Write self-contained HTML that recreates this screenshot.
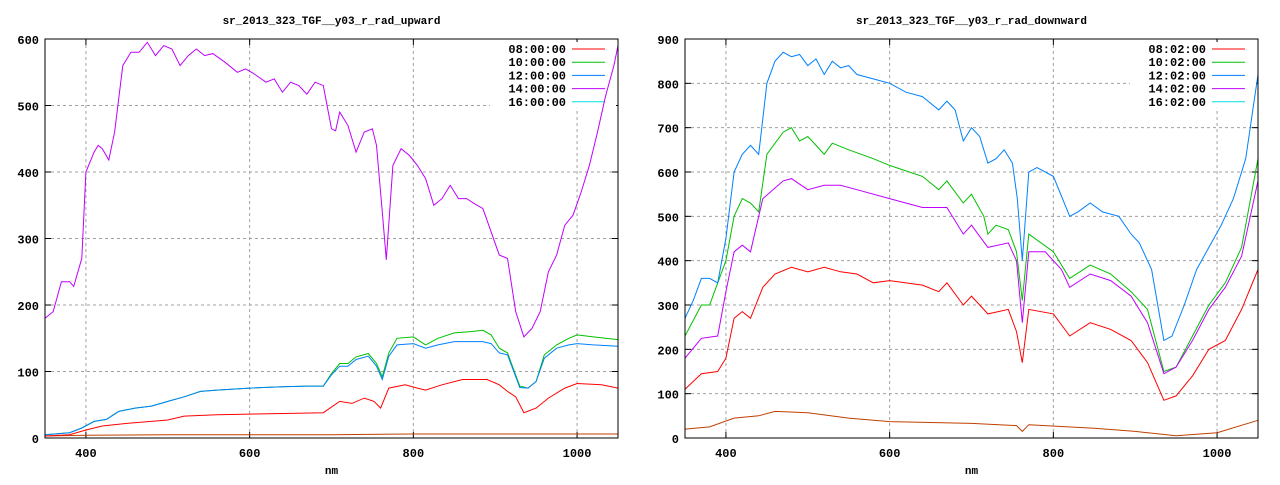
<!DOCTYPE html>
<html><head><meta charset="utf-8"><style>
body{margin:0;background:#fff;width:1280px;height:480px;overflow:hidden}
svg text{font-family:"Liberation Mono","DejaVu Sans Mono",monospace;font-weight:bold;fill:#000}
</style></head><body>
<svg id="s" width="1280" height="480" xmlns="http://www.w3.org/2000/svg"></svg>
<script>
const S=document.getElementById('s');let h='';
function P(pl,a){const [x0,y0,x1,y1,ymax]=pl;return a.map((v,i)=>i%2==0?(x0+(v-350)*(x1-x0)/700).toFixed(1):(y1-v*(y1-y0)/ymax).toFixed(1));}
function line(pl,d,c){const p=P(pl,d);let s='';for(let i=0;i<p.length;i+=2)s+=p[i]+','+p[i+1]+' ';h+=`<polyline points="${s}" fill="none" stroke="${c}" stroke-width="1"/>`;}
function frame(pl,ymax,step,title,labels,cx){const [x0,y0,x1,y1]=pl;
for(let v=0;v<=ymax;v+=step){const y=y1-v*(y1-y0)/ymax;if(v>0&&v<ymax)h+=`<line x1="${x0}" y1="${y}" x2="${x1}" y2="${y}" stroke="#a0a0a0" stroke-dasharray="3,3"/>`;
h+=`<line x1="${x0}" y1="${y}" x2="${x0+6}" y2="${y}" stroke="#000"/><line x1="${x1}" y1="${y}" x2="${x1-6}" y2="${y}" stroke="#000"/>`;
h+=`<text x="${x0-6}" y="${y+5}" font-size="12" text-anchor="end">${v}</text>`;}
for(let n=400;n<=1000;n+=200){const x=x0+(n-350)*(x1-x0)/700;h+=`<line x1="${x}" y1="${y0}" x2="${x}" y2="${y1}" stroke="#a0a0a0" stroke-dasharray="3,3"/>`;
h+=`<line x1="${x}" y1="${y1}" x2="${x}" y2="${y1-6}" stroke="#000"/><line x1="${x}" y1="${y0}" x2="${x}" y2="${y0+6}" stroke="#000"/>`;
h+=`<text x="${x}" y="${y1+19}" font-size="12" text-anchor="middle">${n}</text>`;}
h+=`<text x="${(x0+x1)/2}" y="${y1+36}" font-size="11" text-anchor="middle">nm</text>`;
h+=`<text x="${(x0+x1)/2}" y="24" font-size="11" text-anchor="middle">${title}</text>`;
const cols=['#ff0000','#00c000','#0080ff','#c000ff','#00e0e0'];
labels.forEach((l,i)=>{const y=49+i*13.2;h+=`<rect x="${x1-128}" y="${y-7}" width="126" height="13" fill="#fff"/><text x="${x1-52}" y="${y+4}" font-size="12" text-anchor="end">${l}</text><line x1="${x1-46}" y1="${y}" x2="${x1-13}" y2="${y}" stroke="${cols[i]}"/>`;});
}
const L=[45,39,618,438,600],R=[685,39,1258,438,900];
frame(L,600,100,'sr_2013_323_TGF__y03_r_rad_upward',['08:00:00','10:00:00','12:00:00','14:00:00','16:00:00']);
frame(R,900,100,'sr_2013_323_TGF__y03_r_rad_downward',['08:02:00','10:02:00','12:02:00','14:02:00','16:02:00']);
// left
line(L,[350,3,400,4,500,5,600,5,700,5,800,6,1000,6,1050,6],'#c04000');
line(L,[350,3,380,5,400,12,420,18,450,22,500,27,520,33,560,35,600,36,650,37,690,38,710,55,725,52,740,60,752,55,760,45,770,75,790,80,805,75,815,72,835,80,860,88,890,88,905,80,915,70,925,62,935,38,950,45,965,60,985,75,1000,82,1030,80,1050,75],'#ff0000');
line(L,[350,5,380,8,395,15,410,25,425,28,440,40,460,45,480,48,500,55,520,62,540,70,560,72,600,75,640,77,670,78,690,78,700,97,710,112,720,112,730,122,745,127,755,112,762,92,770,128,780,150,800,152,815,140,830,150,850,158,870,160,885,162,895,155,905,135,915,128,930,78,940,75,950,85,960,125,975,140,990,150,1000,155,1020,152,1050,148],'#00c000');
line(L,[350,5,380,8,395,15,410,25,425,28,440,40,460,45,480,48,500,55,520,62,540,70,560,72,600,75,640,77,670,78,690,78,700,95,710,108,720,108,730,118,745,123,755,108,762,88,770,123,780,140,800,142,815,135,830,140,850,145,870,145,885,145,895,142,905,128,915,125,930,76,940,75,950,85,960,120,975,135,990,140,1000,142,1020,140,1050,138],'#0080ff');
line(L,[350,180,360,190,370,235,380,235,385,228,395,270,400,400,410,430,415,440,420,435,428,418,435,460,445,560,455,580,465,580,475,595,485,575,495,590,505,585,515,560,525,575,535,585,545,575,555,578,570,565,585,550,595,555,605,548,620,535,630,540,640,520,650,535,660,530,670,517,680,535,690,530,700,465,705,462,710,490,720,470,730,430,740,460,750,465,755,440,762,340,767,268,775,410,785,435,795,425,805,410,815,390,825,350,835,360,845,380,855,360,865,360,875,352,885,345,895,310,905,275,915,270,925,190,935,152,945,165,955,190,965,250,975,275,985,320,995,335,1005,370,1015,410,1025,460,1035,515,1045,560,1050,590],'#c000ff');
// right
line(R,[350,20,380,25,410,45,440,50,460,60,500,57,550,45,600,37,700,33,755,28,762,15,770,30,850,22,900,15,950,5,1000,12,1050,40],'#c04000');
line(R,[350,110,370,145,390,150,400,180,410,270,420,285,430,270,445,340,460,370,480,385,500,375,520,385,540,375,560,370,580,350,600,355,640,345,660,330,670,350,690,300,700,320,720,280,745,290,755,240,762,170,770,290,800,280,820,230,845,260,870,245,895,220,915,170,935,85,950,95,970,140,990,200,1010,220,1030,290,1050,380],'#ff0000');
line(R,[350,230,370,300,380,300,400,400,410,500,420,540,430,530,440,510,450,640,470,690,480,700,490,670,500,680,510,660,520,640,530,665,550,650,580,630,600,615,640,590,660,560,670,580,690,530,700,550,715,500,720,460,730,480,745,470,755,420,762,310,770,460,800,420,820,360,845,390,870,370,895,330,915,290,935,150,950,160,970,230,990,300,1010,350,1030,430,1050,630],'#00c000');
line(R,[350,180,370,225,390,230,400,330,410,420,420,435,430,420,445,540,470,580,480,585,500,560,520,570,540,570,560,560,600,540,640,520,670,520,690,460,700,480,720,430,745,440,755,400,762,260,770,420,790,420,810,380,820,340,845,370,870,355,895,320,915,260,935,145,950,160,970,220,990,290,1010,340,1030,410,1050,580],'#c000ff');
line(R,[350,270,360,310,370,360,380,360,390,350,400,450,410,600,420,640,430,660,440,640,450,800,460,850,470,870,480,860,490,865,500,840,510,855,520,820,530,850,540,835,550,840,560,820,580,810,600,800,620,780,640,770,660,740,670,760,680,740,690,670,700,700,710,680,720,620,730,630,740,650,750,620,756,540,762,400,770,600,780,610,800,590,820,500,830,510,845,530,860,510,880,500,895,460,905,440,920,380,935,220,945,230,960,300,975,380,990,430,1005,480,1020,540,1035,630,1050,820],'#0080ff');
h+=`<rect x="45" y="39" width="573" height="399" fill="none" stroke="#000"/><rect x="685" y="39" width="573" height="399" fill="none" stroke="#000"/>`;
S.innerHTML=h;
</script>
</body></html>
